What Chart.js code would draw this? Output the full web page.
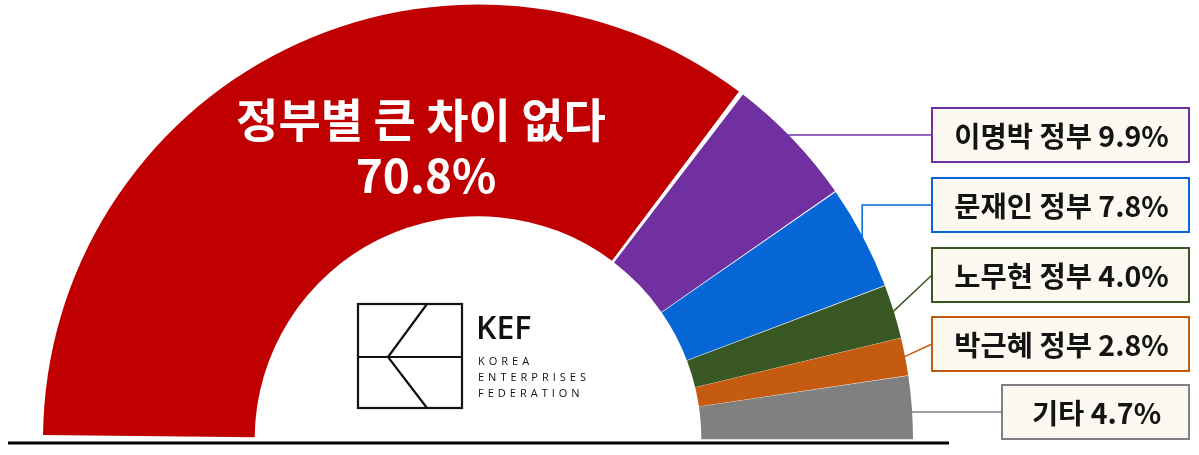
<!DOCTYPE html>
<html lang="ko">
<head>
<meta charset="utf-8">
<title>정부별 큰 차이 없다</title>
<script src="https://cdn.jsdelivr.net/npm/chart.js@4.4.1/dist/chart.umd.min.js"></script>
<style>
  html, body { margin: 0; padding: 0; background: #fff; }
  #wrap { position: relative; width: 1199px; height: 455px; }
</style>
</head>
<body>
<div id="wrap"><canvas id="myChart" width="1199" height="455"></canvas></div>
<script>
// 데이터
const labels = ['정부별 큰 차이 없다', '이명박 정부', '문재인 정부', '노무현 정부', '박근혜 정부', '기타'];
const values = [70.8, 9.9, 7.8, 4.0, 2.8, 4.7];
const colors = ['#c00000', '#7030a0', '#0766d6', '#385723', '#c55a11', '#808080'];

// 오른쪽 박스 배치 (이명박 ~ 기타)
const boxTop = [108, 178, 248, 317, 385];
const boxLeft = [932, 932, 932, 932, 1002];
const boxRight = 1189;
const boxHeight = 54;
const lineType = ['flat', 'elbow', 'straight', 'straight', 'flat'];

const FONT = '"Noto Sans CJK KR", "Noto Sans", sans-serif';

function fmt(v) {
    return v.toFixed(1) + '%';
}

const calloutPlugin = {
    id: 'callouts',
    afterDatasetsDraw(chart) {
        const ctx = chart.ctx;
        const arcs = chart.getDatasetMeta(0).data;
        const cx = arcs[0].x, cy = arcs[0].y, R = arcs[0].outerRadius + 2;

        ctx.save();

        // 큰 조각 제목
        ctx.fillStyle = '#ffffff';
        ctx.textAlign = 'center';
        ctx.textBaseline = 'middle';
        ctx.font = 'bold 46px ' + FONT;
        ctx.fillText(labels[0], 421, 120);
        ctx.fillText(fmt(values[0]), 426, 176);

        // 오른쪽 라벨 박스와 연결선
        for (let i = 1; i < labels.length; i++) {
            const arc = arcs[i];
            const k = i - 1;
            const by = boxTop[k] + boxHeight / 2;
            const mid = (arc.startAngle + arc.endAngle) / 2;
            const mx = cx + Math.cos(mid) * R;
            const my = cy + Math.sin(mid) * R;

            ctx.strokeStyle = colors[i];
            ctx.lineWidth = 1.5;
            ctx.beginPath();
            if (lineType[k] === 'flat') {
                const dy = cy - by;
                ctx.moveTo(cx + Math.sqrt(R * R - dy * dy), by);
                ctx.lineTo(boxLeft[k], by);
            } else if (lineType[k] === 'elbow') {
                ctx.moveTo(mx, my);
                ctx.lineTo(mx, by);
                ctx.lineTo(boxLeft[k], by);
            } else {
                ctx.moveTo(mx, my);
                ctx.lineTo(boxLeft[k], by);
            }
            ctx.stroke();

            ctx.fillStyle = '#fcfaf0';
            ctx.fillRect(boxLeft[k], boxTop[k], boxRight - boxLeft[k], boxHeight);
            ctx.lineWidth = 2;
            ctx.strokeRect(boxLeft[k], boxTop[k], boxRight - boxLeft[k], boxHeight);

            ctx.fillStyle = '#141414';
            ctx.font = 'bold 28.5px ' + FONT;
            ctx.fillText(labels[i] + ' ' + fmt(values[i]), (boxLeft[k] + boxRight) / 2 + 1, by + 1);
        }

        // 바닥선
        ctx.strokeStyle = '#000';
        ctx.lineWidth = 3;
        ctx.beginPath();
        ctx.moveTo(8, 443);
        ctx.lineTo(949, 443);
        ctx.stroke();

        // KEF 로고
        ctx.strokeStyle = '#111';
        ctx.lineWidth = 2.2;
        ctx.strokeRect(358, 304, 104, 104);
        ctx.beginPath();
        ctx.moveTo(358, 357);
        ctx.lineTo(462, 357);
        ctx.moveTo(427, 304);
        ctx.lineTo(388, 357);
        ctx.lineTo(427, 408);
        ctx.stroke();

        ctx.fillStyle = '#111';
        ctx.textAlign = 'left';
        ctx.textBaseline = 'alphabetic';
        ctx.font = '600 32px "Open Sans", sans-serif';
        ctx.fillText('KEF', 476, 339);
        ctx.font = '11px "Open Sans", sans-serif';
        ctx.letterSpacing = '4px';
        ctx.fillText('KOREA', 478, 365);
        ctx.fillText('ENTERPRISES', 478, 381);
        ctx.fillText('FEDERATION', 478, 397);
        ctx.letterSpacing = '0px';

        ctx.restore();
    }
};

const data = {
    labels: labels,
    datasets: [
        {
            data: values,
            backgroundColor: colors,
            borderWidth: 0,
            spacing: 6
        }
    ]
};

const config = {
    type: 'doughnut',
    data: data,
    options: {
        responsive: false,
        animation: false,
        rotation: -90,
        circumference: 180,
        cutout: '51%',
        radius: 432,
        layout: {
            padding: { left: 43, right: 286, top: 6, bottom: 14 }
        },
        plugins: {
            legend: { display: false },
            tooltip: { enabled: false }
        }
    },
    plugins: [calloutPlugin]
};

const ctx = document.getElementById('myChart').getContext('2d');
new Chart(ctx, config);
</script>
</body>
</html>
